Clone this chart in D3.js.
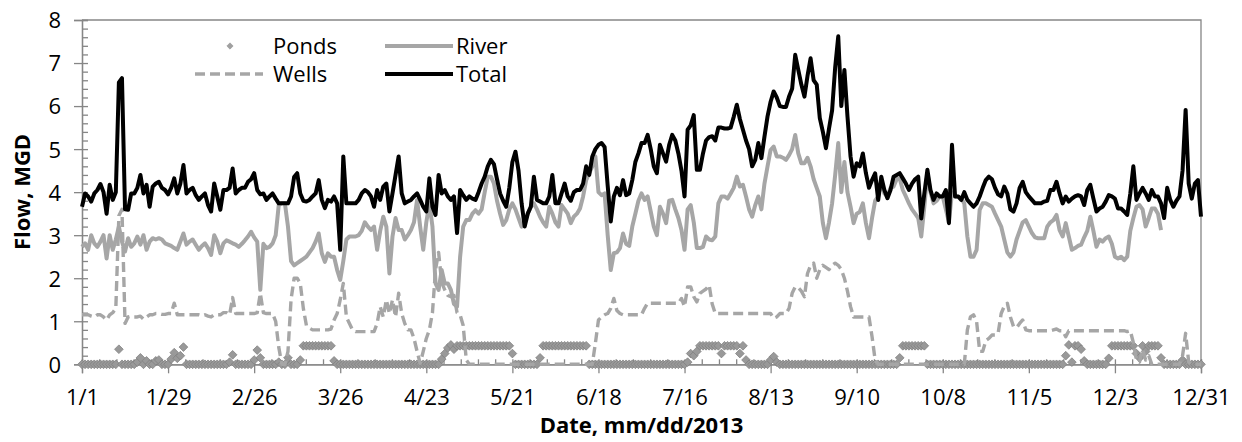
<!DOCTYPE html>
<html>
<head>
<meta charset="utf-8">
<script src="https://cdn.jsdelivr.net/npm/d3@7"></script>
<style>
  html, body { margin: 0; padding: 0; background: #ffffff; }
  svg { display: block; }
  text { font-family: "Open Sans", "Noto Sans", sans-serif; fill: #000; }
</style>
</head>
<body>
<svg id="chart" width="1242" height="442"></svg>
<script>
// Daily flows for 2013, MGD (index 0 = Jan 1)
const total = [
  3.66,3.97,3.90,3.78,3.97,4.05,4.19,4.00,3.50,4.17,
  3.82,4.00,6.55,6.65,3.60,3.59,3.97,3.97,4.10,4.40,
  3.97,4.17,3.66,4.13,4.20,4.24,4.10,4.05,3.95,4.10,
  4.32,3.97,4.20,4.63,3.97,4.05,4.10,3.93,3.82,3.90,
  3.97,3.70,3.55,4.20,3.90,3.59,4.05,4.05,4.10,4.55,
  3.97,4.05,4.10,4.10,4.24,4.30,4.44,4.05,3.95,3.97,
  3.82,3.90,3.97,3.85,3.74,3.74,3.74,3.74,3.90,4.35,
  4.44,3.97,3.80,3.78,3.82,3.90,3.97,4.28,3.82,3.63,
  3.82,3.78,3.90,3.74,2.66,4.83,3.74,3.74,3.74,3.74,
  3.82,3.97,4.05,4.00,3.90,3.66,4.05,3.82,4.13,4.20,
  3.55,3.97,4.40,4.83,3.97,3.74,3.78,3.82,3.90,3.97,
  3.82,3.66,3.55,4.32,3.66,3.47,4.40,3.97,4.05,3.90,
  3.82,3.90,3.05,4.05,3.93,3.82,3.90,3.85,3.82,4.00,
  4.20,4.36,4.60,4.75,4.65,4.30,3.97,3.80,3.66,4.10,
  4.70,4.94,4.50,3.74,3.20,3.50,3.66,4.36,3.82,3.78,
  3.74,3.74,3.90,4.40,3.74,3.74,3.97,4.20,3.90,3.80,
  4.00,4.05,4.05,4.20,4.60,4.40,4.83,5.00,5.10,5.14,
  5.05,4.15,3.32,3.90,4.10,3.93,4.28,3.93,3.97,4.28,
  4.70,4.90,5.14,5.14,5.33,5.00,4.60,4.44,5.10,4.90,
  4.71,5.10,5.33,5.20,4.90,4.50,3.90,5.45,5.55,5.79,
  4.52,4.52,4.90,5.20,5.28,5.30,5.20,5.50,5.50,5.48,
  5.48,5.50,5.75,6.03,5.70,5.45,5.20,5.00,4.60,4.75,
  5.14,4.79,5.29,5.76,6.10,6.34,6.20,6.00,5.98,5.98,
  6.22,6.40,7.19,6.84,6.50,6.22,6.70,7.11,6.60,6.50,
  5.72,5.40,5.02,5.48,5.90,6.90,7.62,6.00,6.84,5.76,
  4.83,4.36,4.67,4.60,4.90,4.44,4.10,4.28,4.44,3.82,
  4.36,4.05,3.86,4.05,4.36,4.40,4.44,4.32,4.20,4.05,
  4.20,4.30,4.36,3.39,3.97,4.52,4.05,3.82,3.97,3.90,
  3.90,4.05,3.28,5.10,3.90,3.90,3.82,4.00,3.82,3.74,
  3.66,3.74,3.90,4.10,4.28,4.36,4.30,4.10,3.95,3.90,
  4.13,3.97,3.60,3.55,3.74,4.10,4.24,4.00,3.90,3.82,
  3.74,3.74,3.74,3.78,3.80,4.05,4.05,4.24,3.97,3.74,
  3.90,3.78,3.85,3.90,3.93,3.90,3.70,4.05,4.17,3.85,
  3.55,3.62,3.66,3.78,3.93,3.90,3.85,3.62,3.62,3.55,
  3.47,3.97,4.60,3.82,3.97,4.10,3.97,3.82,4.05,3.90,
  3.90,3.74,3.40,4.10,3.82,3.66,3.80,3.90,4.50,5.91,
  4.20,3.85,4.20,4.28,3.43
];

const river = [
  2.73,2.81,2.66,3.00,2.81,2.73,2.85,3.00,2.46,3.00,
  2.66,2.90,3.20,2.85,2.62,2.93,2.73,2.81,2.97,2.78,
  3.00,2.66,2.85,2.93,2.90,2.93,2.90,2.81,2.78,2.75,
  2.70,2.66,2.85,3.04,2.78,2.85,2.90,2.78,2.66,2.75,
  2.81,2.70,2.54,3.00,2.85,2.58,2.81,2.88,2.85,2.81,
  2.78,2.73,2.80,2.88,2.97,3.08,2.95,2.85,1.73,2.80,
  2.70,2.73,2.81,3.00,3.70,3.74,3.74,3.20,2.40,2.30,
  2.35,2.40,2.45,2.50,2.60,2.70,2.85,3.04,2.58,2.38,
  2.58,2.50,2.50,2.19,1.96,2.40,2.90,2.97,2.97,2.97,
  3.00,3.10,3.30,3.20,3.12,3.20,2.66,3.10,3.43,3.20,
  2.11,2.97,3.40,3.12,3.12,2.90,3.00,3.12,3.30,3.82,
  3.20,2.66,3.30,3.74,3.20,1.88,1.73,2.19,1.88,1.88,
  1.73,1.40,1.34,2.50,3.20,3.35,3.35,3.50,3.58,3.50,
  3.60,4.00,4.36,4.36,4.20,3.80,3.50,3.24,3.35,3.60,
  3.74,3.60,3.40,3.20,3.30,3.50,3.66,3.74,3.60,3.43,
  3.30,3.20,3.66,3.50,3.30,3.20,3.70,3.60,3.50,3.28,
  3.43,3.50,3.62,3.90,4.28,4.44,4.60,4.83,4.00,3.93,
  3.97,3.00,2.19,2.58,2.60,2.70,3.04,2.80,2.75,3.20,
  3.50,3.80,3.97,3.82,3.90,3.55,3.20,3.00,3.66,3.50,
  3.28,3.80,3.82,3.60,3.40,3.12,2.66,3.60,3.70,3.30,
  2.70,2.70,2.73,2.97,2.90,2.88,2.97,3.74,3.90,3.90,
  3.85,3.97,4.10,4.36,4.13,4.17,3.90,3.60,3.43,3.70,
  3.90,3.60,4.20,4.60,4.98,5.06,4.83,4.83,4.80,4.75,
  4.86,5.00,5.33,4.90,4.67,4.67,4.80,4.60,4.30,4.10,
  3.90,3.28,2.93,3.30,3.74,4.40,5.14,4.00,4.70,4.00,
  3.66,3.28,3.50,3.54,3.74,3.28,2.93,3.40,3.80,3.90,
  4.28,3.97,3.90,4.10,4.13,4.30,4.32,4.05,3.90,3.74,
  3.60,3.50,3.40,2.97,3.66,4.44,4.00,3.74,3.80,3.90,
  3.90,3.60,3.30,4.00,3.90,3.90,3.85,3.74,2.97,2.50,
  2.50,2.66,3.59,3.74,3.74,3.70,3.66,3.50,3.35,3.20,
  2.90,2.60,2.50,2.60,2.90,3.10,3.30,3.35,3.20,3.05,
  2.95,2.93,2.93,2.93,3.20,3.30,3.35,3.47,3.12,2.97,
  3.28,2.97,2.66,2.70,2.75,2.78,2.95,3.10,3.43,3.10,
  2.73,2.90,2.85,2.93,2.97,2.80,2.50,2.46,2.50,2.42,
  2.50,3.10,3.40,3.66,3.70,3.60,3.20,3.40,3.62,3.62,
  3.50,3.12
];

const wells = [
  1.15,1.15,1.15,1.12,1.10,1.15,1.15,1.10,1.03,1.15,
  1.20,1.30,3.45,3.60,0.95,1.10,1.12,1.10,1.10,1.12,
  1.05,1.10,1.15,1.15,1.18,1.18,1.16,1.16,1.18,1.18,
  1.42,1.15,1.15,1.15,1.15,1.15,1.15,1.15,1.15,1.13,
  1.15,1.12,1.10,1.15,1.15,1.15,1.20,1.20,1.15,1.55,
  1.18,1.18,1.18,1.18,1.18,1.18,1.18,1.20,1.65,1.20,
  1.18,1.18,1.18,1.00,0.40,0.00,0.00,0.30,1.50,2.00,
  2.00,1.88,1.30,0.90,0.84,0.80,0.80,0.80,0.80,0.80,
  0.80,0.82,1.03,1.18,1.50,1.88,1.10,0.95,0.80,0.76,
  0.76,0.76,0.76,0.76,0.76,0.76,0.95,1.34,1.10,1.50,
  1.18,1.50,1.10,1.65,1.18,0.95,0.80,0.80,0.60,0.30,
  0.02,0.30,0.60,0.80,1.20,2.20,2.60,1.90,1.73,1.60,
  1.57,1.60,1.20,1.15,0.90,0.10,0,0,0,0,
  0,0,0,0,0,0,0,0,0,0,
  0,0,0,0,0,0,0,0,0,0,
  0,0,0,0,0,0,0,0,0,0,
  0,0,0,0,0,0,0,0.49,1.03,1.10,
  1.15,1.18,1.30,1.53,1.25,1.18,1.15,1.15,1.15,1.15,
  1.15,1.15,1.15,1.30,1.42,1.42,1.42,1.42,1.42,1.42,
  1.42,1.42,1.42,1.42,1.42,1.53,1.34,1.80,1.80,1.57,
  1.45,1.65,1.70,1.75,1.84,1.40,1.18,1.18,1.18,1.18,
  1.18,1.18,1.18,1.18,1.18,1.18,1.18,1.18,1.18,1.18,
  1.18,1.18,1.18,1.18,1.18,1.07,1.10,1.18,1.18,1.18,
  1.30,1.65,1.80,1.78,1.70,1.57,2.11,2.30,2.35,2.00,
  2.20,2.30,2.25,2.20,2.30,2.35,2.30,2.20,2.00,1.70,
  1.34,1.10,1.10,1.10,1.10,1.10,1.10,0.64,0.10,0,
  0,0,0,0,0,0,0,0,0,0,
  0,0,0,0,0,0,0,0,0,0,
  0,0,0,0,0,0,0,0,0.80,1.10,
  1.15,1.00,0.30,0.30,0.55,0.60,0.68,0.68,0.72,1.18,
  1.35,1.42,1.10,0.88,0.85,0.95,1.03,0.80,0.78,0.78,
  0.78,0.78,0.78,0.78,0.78,0.78,0.80,0.82,0.78,0.78,
  0.64,0.78,0.78,0.78,0.78,0.78,0.78,0.78,0.78,0.78,
  0.78,0.78,0.78,0.78,0.78,0.78,0.78,0.78,0.78,0.78,
  0.76,0.78,0.50,0.10,0.05,0.35,0.10,0.20,0,0,
  0,0,0,0,0,0,0,0,0.20,0.72,
  0.05,0,0,0,0
];

const ponds = [
  0,0,0,0,0,0,0,0,0,0,
  0,0,0.35,0,0,0,0,0,0.05,0.15,
  0,0.08,0,0,0.08,0.10,0,0,0,0.12,
  0.27,0.14,0.20,0.40,0,0,0,0,0,0,
  0,0,0,0,0,0,0,0,0.05,0.22,
  0,0,0,0,0,0,0.10,0.33,0.15,0,
  0,0,0,0,0.05,0,0,0.15,0,0,
  0,0.10,0.43,0.43,0.43,0.43,0.43,0.43,0.43,0.43,
  0.43,0.43,0.08,0,0,0,0,0,0,0,
  0,0,0,0,0,0,0,0,0,0,
  0,0,0,0,0,0,0,0,0,0,
  0,0,0,0,0,0,0,0.12,0.25,0.38,
  0.45,0.35,0.43,0.43,0.43,0.43,0.43,0.43,0.43,0.43,
  0.43,0.43,0.43,0.43,0.43,0.43,0.43,0.43,0.43,0.43,
  0.25,0,0,0,0,0,0,0,0,0.15,
  0.43,0.43,0.43,0.43,0.43,0.43,0.43,0.43,0.43,0.43,
  0.43,0.43,0.43,0.43,0.43,0,0,0,0,0,
  0,0,0,0,0,0,0,0,0,0,
  0,0,0,0,0,0,0,0,0,0,
  0,0,0,0,0,0,0,0.05,0.25,0.20,
  0.30,0.43,0.43,0.43,0.43,0.43,0.43,0.43,0.25,0.43,
  0.43,0.43,0.43,0.43,0.25,0.43,0.10,0,0,0,
  0,0,0,0,0.10,0.18,0.05,0,0,0,
  0,0,0,0,0,0,0,0,0,0,
  0,0,0,0,0,0,0,0,0,0,
  0,0,0,0,0,0,0,0,0,0,
  0,0,0,0,0,0,0.15,0.43,0.43,0.43,
  0.43,0.43,0.43,0.43,0.43,0,0,0,0,0,
  0,0,0,0,0,0,0,0,0,0,
  0,0,0,0,0,0,0,0,0,0,
  0,0,0,0,0,0,0,0,0,0,
  0,0,0,0,0,0,0,0,0,0,
  0.20,0.45,0.05,0.43,0.43,0.35,0.08,0,0,0,
  0,0,0,0,0.14,0.43,0.43,0.43,0.43,0.43,
  0.43,0.43,0.43,0.25,0.15,0.43,0.30,0.43,0.43,0.43,
  0.43,0.15,0,0,0,0,0,0,0.10,0,
  0,0,0,0,0
];

// Axis ticks
const xTickLabels = ["1/1","1/29","2/26","3/26","4/23","5/21","6/18","7/16","8/13","9/10","10/8","11/5","12/3","12/31"];
const yTickLabels = ["0","1","2","3","4","5","6","7","8"];

const startDate = new Date(Date.UTC(2013, 0, 1));
const DAY = 864e5;
const dateOf = i => new Date(startDate.getTime() + i * DAY);

const margin = { left: 82, right: 1201, top: 20, bottom: 364.3 };
const svg = d3.select("#chart");
svg.append("rect").attr("width", 1242).attr("height", 442).attr("fill", "#fff");

const x = d3.scaleUtc()
  .domain([startDate, dateOf(364)])
  .range([margin.left, margin.right]);
const y = d3.scaleLinear()
  .domain([0, 8])
  .range([margin.bottom, margin.top]);

const axisColor = "#868686";

// Plot frame (top and right edges)
svg.append("path")
  .attr("d", `M${margin.left},${margin.top}H${margin.right}V${margin.bottom}`)
  .attr("fill", "none").attr("stroke", axisColor).attr("stroke-width", 1.3);

// Y axis: major ticks outside, minor ticks inside
const yMajor = svg.append("g")
  .attr("transform", `translate(${margin.left},0)`)
  .call(d3.axisLeft(y)
    .tickValues(yTickLabels.map(Number))
    .tickSize(8).tickPadding(13)
    .tickFormat((d, i) => yTickLabels[i]));
const yMinor = svg.append("g")
  .attr("transform", `translate(${margin.left},0)`)
  .call(d3.axisRight(y)
    .tickValues(d3.range(0, 8.001, 0.2))
    .tickSize(6).tickFormat(""));

// X axis: major ticks outside, minor ticks (major/5) inside
const xTickDates = xTickLabels.map((_, i) => dateOf(i * 28));
const xMajor = svg.append("g")
  .attr("transform", `translate(0,${margin.bottom})`)
  .call(d3.axisBottom(x)
    .tickValues(xTickDates)
    .tickSize(9)
    .tickFormat((d, i) => xTickLabels[i]));
const xMinor = svg.append("g")
  .attr("transform", `translate(0,${margin.bottom})`)
  .call(d3.axisTop(x)
    .tickValues(d3.range(0, 66).map(k => dateOf(k * 5.6)))
    .tickSize(5).tickFormat(""));

[yMajor, yMinor, xMajor, xMinor].forEach(g => {
  g.select(".domain").attr("stroke", axisColor).attr("stroke-width", 1.3);
  g.selectAll(".tick line").attr("stroke", axisColor).attr("stroke-width", 1.3);
  g.selectAll("text").attr("font-size", 22).attr("fill", "#000")
    .attr("font-family", '"Open Sans", sans-serif');
});
yMajor.selectAll("text").attr("dy", "0.36em");
xMajor.selectAll("text").attr("y", 41).attr("dy", 0);

// Axis titles
svg.append("text")
  .attr("transform", "translate(30,192) rotate(-90)")
  .attr("text-anchor", "middle")
  .attr("font-size", 22).attr("font-weight", "bold")
  .text("Flow, MGD");
svg.append("text")
  .attr("x", (margin.left + margin.right) / 2).attr("y", 433)
  .attr("text-anchor", "middle")
  .attr("font-size", 22).attr("font-weight", "bold")
  .text("Date, mm/dd/2013");

// Series
const plot = svg.append("g");
const diamond = d3.symbol().type(d3.symbolSquare).size(38);

plot.append("g").selectAll("path")
  .data(ponds)
  .join("path")
  .attr("d", diamond)
  .attr("transform", (v, i) => `translate(${x(dateOf(i))},${y(v)}) rotate(45)`)
  .attr("fill", "#999999").attr("stroke", "#7f7f7f").attr("stroke-width", 0.7);

const lineOf = d3.line()
  .x((v, i) => x(dateOf(i)))
  .y(v => y(v));

plot.append("path").datum(river)
  .attr("d", lineOf)
  .attr("fill", "none").attr("stroke", "#a6a6a6")
  .attr("stroke-width", 4).attr("stroke-linejoin", "round");

plot.append("path").datum(wells)
  .attr("d", lineOf)
  .attr("fill", "none").attr("stroke", "#a6a6a6")
  .attr("stroke-width", 3.4).attr("stroke-dasharray", "10,5")
  .attr("stroke-linejoin", "round");

plot.append("path").datum(total)
  .attr("d", lineOf)
  .attr("fill", "none").attr("stroke", "#000")
  .attr("stroke-width", 4).attr("stroke-linejoin", "round");

// Legend
const legend = svg.append("g");
const legendItems = [
  { name: "Ponds", type: "marker", lx: 195, ly: 46, tx: 273 },
  { name: "Wells", type: "dash",   lx: 195, ly: 74, tx: 273 },
  { name: "River", type: "river",  lx: 385, ly: 46, tx: 456 },
  { name: "Total", type: "total",  lx: 385, ly: 74, tx: 456 }
];
legendItems.forEach(it => {
  if (it.type === "marker") {
    legend.append("path")
      .attr("d", d3.symbol().type(d3.symbolSquare).size(20)())
      .attr("transform", `translate(230,${it.ly}) rotate(45)`)
      .attr("fill", "#a0a0a0").attr("stroke", "#909090").attr("stroke-width", 0.5);
  } else {
    legend.append("line")
      .attr("x1", it.lx).attr("x2", it.lx + 68)
      .attr("y1", it.ly).attr("y2", it.ly)
      .attr("stroke", it.type === "total" ? "#000" : "#a6a6a6")
      .attr("stroke-width", it.type === "dash" ? 3.4 : 4)
      .attr("stroke-dasharray", it.type === "dash" ? "10,5" : null);
  }
  legend.append("text")
    .attr("x", it.tx).attr("y", it.ly)
    .attr("dy", "0.36em")
    .attr("font-size", 22)
    .text(it.name);
});
</script>
</body>
</html>
